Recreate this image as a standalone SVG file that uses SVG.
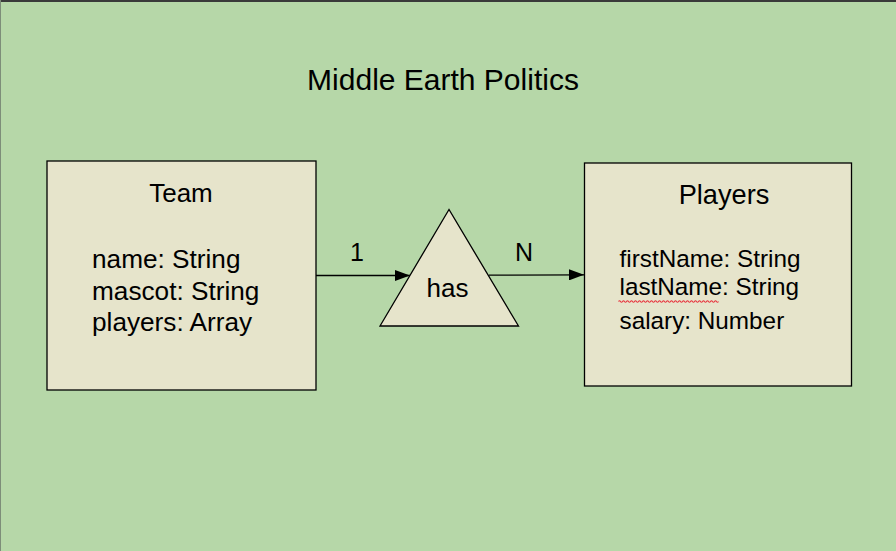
<svg xmlns="http://www.w3.org/2000/svg" width="896" height="551" viewBox="0 0 896 551">
<style>
text { font-family: "Liberation Sans", Arial, sans-serif; fill: #000; }
.node { fill: #e6e4cb; stroke: #000; stroke-width: 1.3; }
.conn { stroke: #000; stroke-width: 1.3; fill: none; }
</style>
<defs>
<marker id="arrow" viewBox="0 0 15 11" refX="15" refY="5.5" markerWidth="15" markerHeight="11" markerUnits="userSpaceOnUse" orient="auto">
<path d="M0,0 L15,5.5 L0,11 Z" fill="#000"/>
</marker>
</defs>
<rect x="0" y="0" width="896" height="551" fill="#b6d7a8"/>
<rect x="0" y="0" width="896" height="2" fill="#3a3a3a"/>
<rect x="0" y="0" width="1" height="551" fill="#7d8d79"/>
<text x="443" y="90" font-size="30" text-anchor="middle">Middle Earth Politics</text>
<g id="connectors">
<line class="conn" x1="316" y1="275.5" x2="410" y2="275.5" marker-end="url(#arrow)"/>
<line class="conn" x1="489" y1="275.2" x2="584" y2="274.8" marker-end="url(#arrow)"/>
<text x="357" y="261" font-size="25" text-anchor="middle">1</text>
<text x="524" y="261" font-size="25" text-anchor="middle">N</text>
</g>
<g id="team">
<rect class="node" x="47" y="161" width="269" height="229"/>
<text x="181" y="201.5" font-size="26" text-anchor="middle">Team</text>
<text x="92" y="268.3" font-size="26.2">name: String</text>
<text x="92" y="299.8" font-size="26.2">mascot: String</text>
<text x="92" y="331.3" font-size="26.2">players: Array</text>
</g>
<g id="has">
<polygon class="node" points="449,209.5 380,326 518.5,326"/>
<text x="447.5" y="297" font-size="26" text-anchor="middle">has</text>
</g>
<g id="players">
<rect class="node" x="584.5" y="163" width="267" height="223"/>
<text x="724" y="204.3" font-size="27.2" text-anchor="middle">Players</text>
<text x="619.5" y="266.7" font-size="24.3">firstName: String</text>
<text x="619.5" y="295.3" font-size="24.3">lastName: String</text>
<text x="619.5" y="329.3" font-size="24.3">salary: Number</text>
<path d="M618.5,301.5 q1,-1.6 2,0 t2,0 t2,0 t2,0 t2,0 t2,0 t2,0 t2,0 t2,0 t2,0 t2,0 t2,0 t2,0 t2,0 t2,0 t2,0 t2,0 t2,0 t2,0 t2,0 t2,0 t2,0 t2,0 t2,0 t2,0 t2,0 t2,0 t2,0 t2,0 t2,0 t2,0 t2,0 t2,0 t2,0 t2,0 t2,0 t2,0 t2,0 t2,0 t2,0 t2,0 t2,0 t2,0 t2,0 t2,0 t2,0 t2,0 t2,0 t2,0 t2,0" fill="none" stroke="#e8323c" stroke-width="1.1"/>
</g>
</svg>
